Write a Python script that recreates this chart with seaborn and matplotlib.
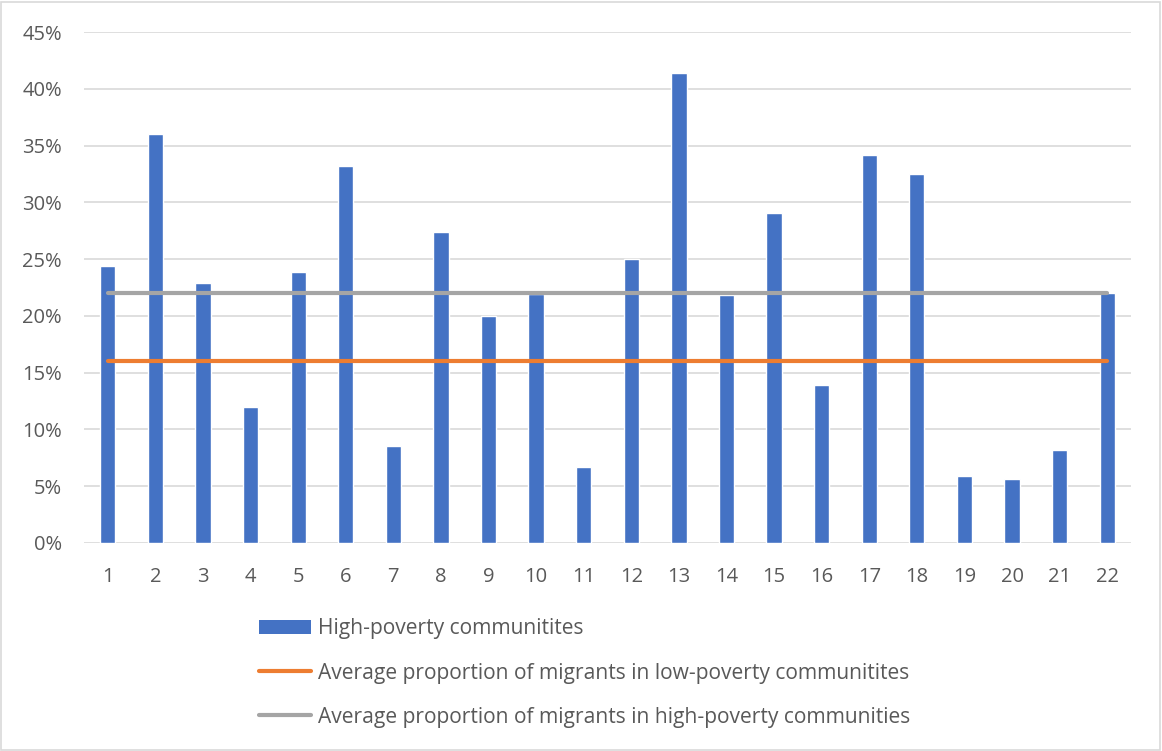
import numpy as np
import pandas as pd
import matplotlib
matplotlib.use("Agg")
import matplotlib.pyplot as plt
from matplotlib.patches import Patch, Rectangle
from matplotlib.lines import Line2D
from matplotlib.ticker import PercentFormatter
import seaborn as sns

# Community index and share of migrants (%) in each high-poverty community
communities = [str(i) for i in range(1, 23)]
high_poverty_share = [24.4, 36.0, 22.9, 12.0, 23.9, 33.2, 8.5, 27.4, 20.0, 21.9, 6.7,
                      25.0, 41.4, 21.8, 29.1, 13.9, 34.2, 32.5, 5.9, 5.6, 8.2, 22.0]
avg_low_poverty = [16.0] * 22
avg_high_poverty = [22.0] * 22

labels = ["High-poverty communitites",
          "Average proportion of migrants in low-poverty communitites",
          "Average proportion of migrants in high-poverty communities"]

BLUE = "#4472C4"
ORANGE = "#ED7D31"
GREY = "#A5A5A5"
TEXT = "#595959"
GRID = "#D9D9D9"
FS = 14.5
LEG_FS = 15.1

sns.set_theme(style="white")
plt.rcParams["font.family"] = ["Open Sans", "DejaVu Sans"]

df = pd.DataFrame({"community": communities,
                   "share": high_poverty_share,
                   "low": avg_low_poverty,
                   "high": avg_high_poverty})

W, H = 1162, 751
fig = plt.figure(figsize=(W / 100, H / 100), dpi=100)
ax = fig.add_axes([84 / W, (H - 543) / H, 1047 / W, 511 / H])

sns.barplot(data=df, x="community", y="share", color=BLUE, width=0.32,
            saturation=1, errorbar=None, ax=ax, zorder=2)

for col, colour in (("high", GREY), ("low", ORANGE)):
    sns.pointplot(data=df, x="community", y=col, color=colour, errorbar=None,
                  markers="", linewidth=3.0, ax=ax, zorder=3,
                  solid_capstyle="round")

ax.set_ylim(0, 45)
ax.set_yticks(np.arange(0, 46, 5))
ax.yaxis.set_major_formatter(PercentFormatter(decimals=0))
ax.set_xlim(-0.5, len(communities) - 0.5)
ax.grid(axis="y", color=GRID, linewidth=1.2, zorder=0)
ax.set_axisbelow(True)
for s in ax.spines.values():
    s.set_visible(False)
ax.set_xlabel("")
ax.set_ylabel("")
ax.tick_params(axis="both", length=0, labelsize=FS, colors=TEXT)
ax.tick_params(axis="x", pad=17)
ax.tick_params(axis="y", pad=16)

handles = [Patch(facecolor=BLUE, edgecolor="none"),
           Line2D([], [], color=ORANGE, linewidth=3.0, solid_capstyle="round"),
           Line2D([], [], color=GREY, linewidth=3.0, solid_capstyle="round")]
fig.legend(handles, labels, loc="center left", bbox_to_anchor=(259 / W, 1 - 673 / H),
           frameon=False, fontsize=LEG_FS, labelcolor=TEXT, handlelength=2.5,
           handletextpad=0.3, labelspacing=1.1, borderaxespad=0, borderpad=0)

fig.patches.append(Rectangle((1 / W, 1 / H), 1 - 3 / W, 1 - 3 / H, transform=fig.transFigure,
                             fill=False, edgecolor=GRID, linewidth=1.2))

fig.savefig("out.png", dpi=100)
